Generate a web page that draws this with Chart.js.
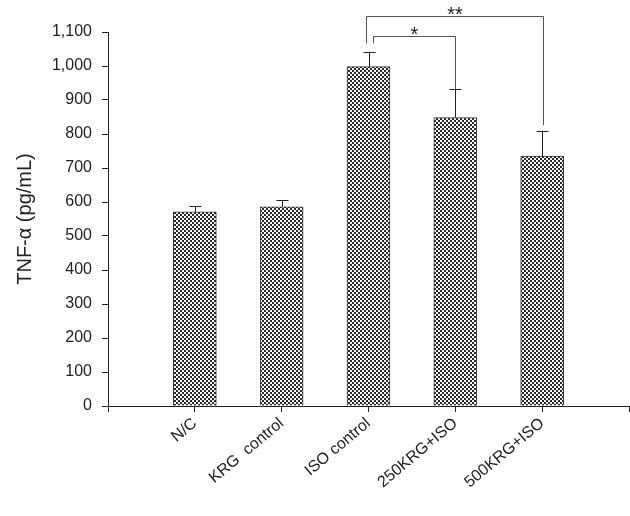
<!DOCTYPE html>
<html>
<head>
<meta charset="utf-8">
<script src="https://cdn.jsdelivr.net/npm/chart.js@4.4.1/dist/chart.umd.min.js"></script>
<style>
  html, body { margin: 0; padding: 0; background: #fff; }
  #wrap { width: 630px; height: 516px; }
</style>
</head>
<body>
<div id="wrap"><canvas id="tnf-chart"></canvas></div>
<script>
// Data
const categories = ["N/C", "KRG  control", "ISO control", "250KRG+ISO", "500KRG+ISO"];
const positions = [1, 2, 3, 4, 5];
const means = [571, 586, 998, 848, 735];
const errors = [17, 20, 44, 83, 75];
const yTicks = [0, 100, 200, 300, 400, 500, 600, 700, 800, 900, 1000, 1100];

// Significance brackets: x from/to (category position), top value, leg ends, label
const bracketFrom = [2.97, 3.05];
const bracketTo = [5.01, 4.0];
const bracketTop = [1147, 1088];
const bracketLeftEnd = [1067, 1067];
const bracketRightEnd = [826, 931];
const bracketLabels = ["**", "*"];

const FONT = "'Liberation Sans', Arial, sans-serif";
const INK = "#222";

// Crosshatch fill like the original
function makeHatch() {
  const c = document.createElement("canvas");
  c.width = 4;
  c.height = 4;
  const g = c.getContext("2d");
  g.fillStyle = "#2a2a2a";
  g.fillRect(0, 0, 4, 4);
  g.fillStyle = "#f6f6f6";
  g.fillRect(0, 0, 2, 2);
  g.fillRect(2, 2, 2, 2);
  return g.createPattern(c, "repeat");
}

const errorBarsAndBrackets = {
  id: "errorBarsAndBrackets",
  afterDatasetsDraw(chart) {
    const { ctx, scales } = chart;
    const x = scales.x;
    const y = scales.y;
    ctx.save();
    ctx.strokeStyle = INK;
    ctx.lineWidth = 1;

    // Error bars (upper only)
    positions.forEach((p, i) => {
      const px = Math.round(x.getPixelForValue(p)) + 0.5;
      const top = y.getPixelForValue(means[i] + errors[i]);
      const base = y.getPixelForValue(means[i]);
      ctx.beginPath();
      ctx.moveTo(px, base);
      ctx.lineTo(px, top);
      ctx.moveTo(px - 6, Math.round(top) + 0.5);
      ctx.lineTo(px + 6, Math.round(top) + 0.5);
      ctx.stroke();
    });

    // Brackets
    ctx.strokeStyle = "#555";
    ctx.fillStyle = INK;
    ctx.font = "20px " + FONT;
    ctx.textAlign = "center";
    ctx.textBaseline = "alphabetic";
    bracketLabels.forEach((lab, i) => {
      const x1 = Math.round(x.getPixelForValue(bracketFrom[i])) + 0.5;
      const x2 = Math.round(x.getPixelForValue(bracketTo[i])) + 0.5;
      const yt = Math.round(y.getPixelForValue(bracketTop[i])) + 0.5;
      ctx.beginPath();
      ctx.moveTo(x1, y.getPixelForValue(bracketLeftEnd[i]));
      ctx.lineTo(x1, yt);
      ctx.lineTo(x2, yt);
      ctx.lineTo(x2, y.getPixelForValue(bracketRightEnd[i]));
      ctx.stroke();
      ctx.fillText(lab, (x1 + x2) / 2, yt + 4);
    });
    ctx.restore();
  },
};

const chart = new Chart(document.getElementById("tnf-chart"), {
  type: "bar",
  data: {
    datasets: [
      {
        data: positions.map((p, i) => ({ x: p, y: means[i] })),
        backgroundColor: makeHatch(),
        borderColor: "#3a3a3a",
        borderWidth: 1,
        barThickness: 43,
      },
    ],
  },
  options: {
    responsive: true,
    maintainAspectRatio: false,
    animation: false,
    layout: { padding: { top: 32, right: 1, left: 0, bottom: 0 } },
    plugins: { legend: { display: false }, tooltip: { enabled: false } },
    scales: {
      x: {
        type: "linear",
        min: 0,
        max: 6,
        offset: false,
        afterFit: (s) => {
          s.height = 110;
          s.paddingLeft = 0;
          s.paddingRight = 0;
        },
        afterBuildTicks: (s) => { s.ticks = [0, 1, 2, 3, 4, 5, 6].map((v) => ({ value: v })); },
        grid: { offset: false, drawOnChartArea: false, tickLength: 6, color: INK, tickColor: INK },
        border: { color: INK, width: 1 },
        ticks: {
          color: INK,
          font: { family: FONT, size: 16 },
          minRotation: 40,
          maxRotation: 40,
          padding: 2,
          autoSkip: false,
          callback: (v) => categories[v - 1] || "",
        },
      },
      y: {
        min: 0,
        max: 1100,
        afterFit: (s) => { s.width = 108; },
        afterBuildTicks: (s) => { s.ticks = yTicks.map((v) => ({ value: v })); },
        grid: { drawOnChartArea: false, tickLength: 6, color: INK, tickColor: INK },
        border: { color: INK, width: 1 },
        ticks: {
          color: INK,
          font: { family: FONT, size: 16 },
          padding: 10,
          callback: (v) => v.toLocaleString("en-US"),
        },
        title: {
          display: true,
          text: "TNF-\u03b1 (pg/mL)",
          color: INK,
          font: { family: FONT, size: 20 },
          padding: { top: 13, bottom: 0 },
        },
      },
    },
  },
  plugins: [errorBarsAndBrackets],
});
</script>
</body>
</html>
